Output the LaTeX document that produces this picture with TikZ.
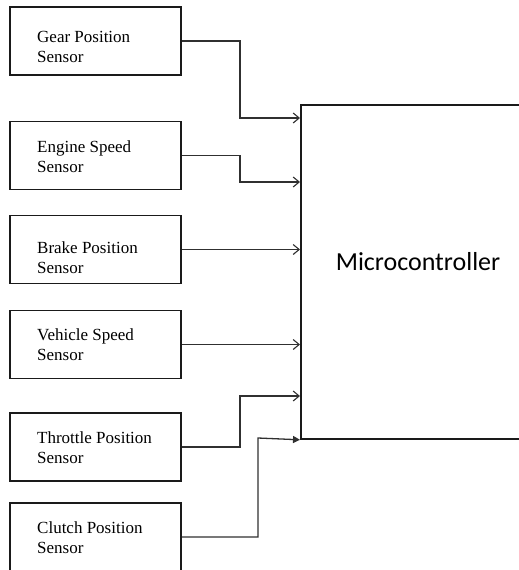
\documentclass[tikz,border=0pt]{standalone}
\usepackage{fontspec}
\setmainfont{Liberation Serif}
\newfontfamily\mcfont{Carlito}
\usetikzlibrary{arrows.meta}
\definecolor{ink}{HTML}{1A1A1A}
\definecolor{wire}{HTML}{303030}
\tikzset{
  sbox/.style={draw=ink, line width=1.8pt, minimum width=171pt, minimum height=68pt, inner sep=0pt},
  stext/.style={anchor=base west, inner sep=0pt, align=left, font=\fontsize{17}{20}\selectfont},
  conn/.style={draw=wire, line width=1.3pt, -{Straight Barb[length=6pt,width=10pt,line width=1.1pt]}},
  connf/.style={draw=wire, line width=1.3pt, -{Triangle[length=7pt,width=7pt]}},
}
\begin{document}
\begin{tikzpicture}[x=1pt,y=-1pt]
\useasboundingbox (0,0) rectangle (519,570);
\clip (0,0) rectangle (519,570);
\node[sbox] (s1) at (95.5,41) {};
\node[sbox] (s2) at (95.5,155.5) {};
\node[sbox] (s3) at (95.5,249.5) {};
\node[sbox] (s4) at (95.5,344.5) {};
\node[sbox] (s5) at (95.5,447) {};
\node[sbox] (s6) at (95.5,537) {};
\node[stext] (t1) at (37,62) {Gear Position\\Sensor};
\node[stext] (t2) at (37,172) {Engine Speed\\Sensor};
\node[stext] (t3) at (37,273) {Brake Position\\Sensor};
\node[stext] (t4) at (37,360) {Vehicle Speed\\Sensor};
\node[stext] (t5) at (37,463) {Throttle Position\\Sensor};
\node[stext] (t6) at (37,553) {Clutch Position\\Sensor};
\node[draw=ink, line width=1.8pt, minimum width=250pt, minimum height=334pt, inner sep=0pt, anchor=north west] (mc) at (300,104) {};
\node[anchor=base, inner sep=0pt, font=\mcfont\fontsize{26}{30}\selectfont] (mct) at (418,270) {Microcontroller};
\coordinate (e1) at (mc.west |- 0,118);
\coordinate (e2) at (mc.west |- 0,182);
\coordinate (e5) at (mc.west |- 0,396);
\coordinate (e6) at (mc.south west);
\draw[conn] (s1.east) -| (240,118) -- (e1);
\draw[conn] (s2.east) -| (240,182) -- (e2);
\draw[conn] (s3.east) -- (s3.east -| mc.west);
\draw[conn] (s4.east) -- (s4.east -| mc.west);
\draw[conn] (s5.east) -| (240,396) -- (e5);
\draw[connf] (s6.east) -| (258,438) -- (e6);
\end{tikzpicture}
\end{document}
